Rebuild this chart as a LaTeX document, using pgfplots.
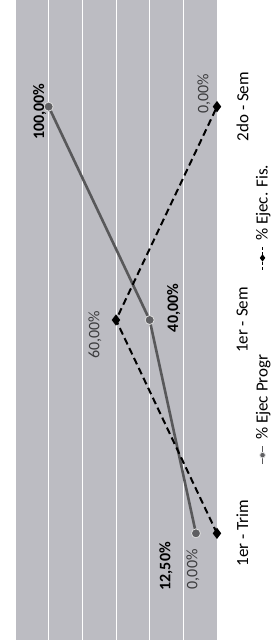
\documentclass[border=0pt]{standalone}
\usepackage{pgfplots}
\pgfplotsset{compat=1.18}
\usepackage{pgfplotstable}
\usepackage{fontspec}
\setmainfont{Carlito}
\usetikzlibrary{calc}
\definecolor{plotbg}{RGB}{188,188,194}
\definecolor{progline}{RGB}{88,88,90}
\definecolor{progmark}{RGB}{95,95,98}
\definecolor{fislabel}{RGB}{60,60,62}

% cat: 0 = 1er - Trim, 1 = 1er - Sem, 2 = 2do - Sem
\pgfplotstableread{
cat prog pdx pdy fis fdx fdy
0 12.5 -30 -33 0 -24 -36
1 40 24 12 60 -21 -15
2 100 -9 -5 0 -13 13
}\datatab

\begin{document}
\begin{tikzpicture}
\begin{axis}[
  scale only axis, width=202pt, height=640pt,
  x dir=reverse, xmin=0, xmax=120,
  ymin=-0.5, ymax=2.5,
  axis background/.style={fill=plotbg},
  axis line style={draw=none},
  xtick={0,20,...,120}, xticklabels={},
  xmajorgrids, major grid style={white, line width=0.9pt},
  ytick={0,1,2}, yticklabels={1er - Trim, 1er - Sem, 2do - Sem},
  yticklabel pos=right,
  yticklabel style={xshift=16pt, rotate=90, anchor=north, font=\fontsize{17}{20}\selectfont},
  major tick length=0pt,
  clip=false,
  /pgf/number format/.cd, fixed, fixed zerofill, precision=2, use comma, assume math mode=true,
  /pgfplots/.cd,
  legend columns=1, reverse legend,
  legend style={at={(1.228,0.508)}, anchor=center, draw=none, fill=none, row sep=84pt,
    nodes={inner sep=0pt}},
]
\addplot[progline, line width=2.6pt, mark=*, mark size=4.5pt,
  mark options={solid, fill=progmark, draw=white!75!gray, line width=0.8pt},
  point meta=x,
  visualization depends on={\thisrow{pdx} \as \ldx},
  visualization depends on={\thisrow{pdy} \as \ldy},
  nodes near coords={\pgfmathprintnumber{\pgfplotspointmeta}\%},
  nodes near coords style={font=\bfseries\fontsize{16}{19}\selectfont, text=black,
    xshift=\ldx pt, yshift=\ldy pt, rotate=90, anchor=center},
  legend image code/.code={
    \draw[line width=1.6pt, mark size=2.8pt, mark repeat=2, mark phase=2] plot coordinates {(0pt,0pt) (0pt,9pt) (0pt,18pt)};
    \node[rotate=90, anchor=west, text=black, inner sep=0pt, font=\fontsize{17}{20}\selectfont] at (0pt,23pt) {\% Ejec Progr};
  },
] table[x=prog, y=cat] {\datatab};
\addlegendentry{}
\addplot[black, line width=2pt, dash pattern=on 7pt off 4pt, mark=diamond*, mark size=4pt,
  mark options={solid, fill=black},
  point meta=x,
  visualization depends on={\thisrow{fdx} \as \ldx},
  visualization depends on={\thisrow{fdy} \as \ldy},
  nodes near coords={\pgfmathprintnumber{\pgfplotspointmeta}\%},
  nodes near coords style={font=\fontsize{16}{19}\selectfont, text=fislabel,
    xshift=\ldx pt, yshift=\ldy pt, rotate=90, anchor=center},
  legend image code/.code={
    \draw[line width=1.4pt, dash pattern=on 3pt off 2pt, mark size=2.5pt, mark repeat=2, mark phase=2] plot coordinates {(0pt,0pt) (0pt,12pt) (0pt,24pt)};
    \node[rotate=90, anchor=west, text=black, inner sep=0pt, font=\fontsize{17}{20}\selectfont] at (0pt,28pt) {\% Ejec. Fis.};
  },
] table[x=fis, y=cat] {\datatab};
\addlegendentry{}
\end{axis}
\pgfresetboundingbox
\path[use as bounding box] ($(current axis.south west)+(-15pt,0pt)$) rectangle ($(current axis.north east)+(57pt,0pt)$);
\end{tikzpicture}
\end{document}
